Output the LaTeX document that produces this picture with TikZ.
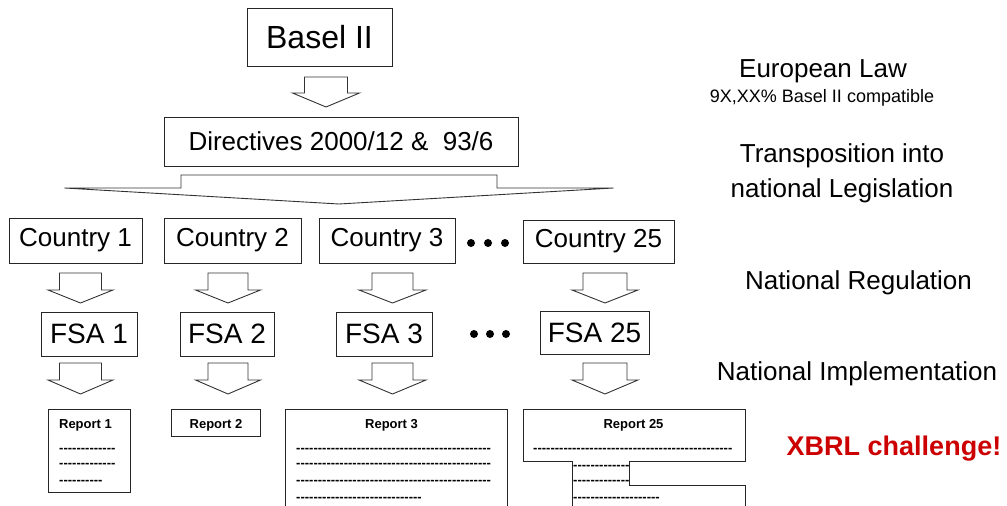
\documentclass[tikz,border=0pt]{standalone}
\usepackage{fontspec}
\setmainfont{Liberation Sans}
\newcommand\hyph[1]{\foreach \i in {1,...,#1}{-\kern0pt}}
\newcommand\blockarrow[6]{% cx, top, shaft half, head half, shaft height, total height
  \draw[arrowline] ({#1-#3},#2) -- ({#1+#3},#2) -- ({#1+#3},{#2+#5}) -- ({#1+#4},{#2+#5})
    -- (#1,{#2+#6}) -- ({#1-#4},{#2+#5}) -- ({#1-#3},{#2+#5}) -- cycle;}
\definecolor{xred}{RGB}{204,0,0}
\begin{document}
\begin{tikzpicture}[x=1pt,y=-1pt,
  box/.style={draw=black!85, line width=0.9pt, inner sep=0pt},
  arrowline/.style={draw=black!80, line width=0.9pt, line join=miter},
  mid/.style={font=\fontsize{26}{30}\selectfont},
  big/.style={font=\fontsize{32}{36}\selectfont},
  fsa/.style={font=\fontsize{28}{32}\selectfont},
  lbl/.style={font=\fontsize{26}{30}\selectfont, anchor=base, inner sep=0pt},
  rtitle/.style={font=\fontsize{13}{15}\selectfont\bfseries, anchor=base, inner sep=0pt},
  dashes/.style={font=\fontsize{13}{15}\selectfont\bfseries, anchor=base west, inner sep=0pt},
  dot/.style={fill=black, circle, inner sep=0pt, minimum size=8pt}]
\useasboundingbox (0,0) rectangle (1007,506);

% top boxes
\node[box, big, minimum width=145pt, minimum height=58pt] (basel) at (319.5,37) {Basel II};
\node[box, mid, minimum width=354pt, minimum height=49pt] (dir) at (341,141.5) {Directives 2000/12 \&\ \ 93/6};

% block arrows top
\blockarrow{326}{77}{21.5}{33.5}{16}{30}
\blockarrow{339}{175}{158}{274.5}{13}{29}

% countries
\node[box, mid, minimum width=133pt, minimum height=45pt] (c1) at (75.5,240.5) {Country 1};
\node[box, mid, minimum width=137pt, minimum height=45pt] (c2) at (232.5,240.5) {Country 2};
\node[box, mid, minimum width=136pt, minimum height=45pt] (c3) at (387,240.5) {Country 3};
\node[box, mid, minimum width=151pt, minimum height=43pt] (c25) at (598.5,241.5) {Country 25};
\node[dot] (cd1) at (471,243) {};
\node[dot] (cd2) at (488,243) {};
\node[dot] (cd3) at (505,243) {};

% arrows country -> FSA
\blockarrow{80.5}{273}{21}{32.5}{17}{30}
\blockarrow{228}{273}{20}{32.5}{17}{30}
\blockarrow{392.5}{273}{20.5}{33.5}{17}{30}
\blockarrow{605}{273}{22}{33}{17}{30}

% FSAs
\node[box, fsa, minimum width=96pt, minimum height=44pt] (f1) at (89,334) {FSA 1};
\node[box, fsa, minimum width=94pt, minimum height=44pt] (f2) at (227,334) {FSA 2};
\node[box, fsa, minimum width=96pt, minimum height=44pt] (f3) at (384,334) {FSA 3};
\node[box, fsa, minimum width=109pt, minimum height=43pt] (f25) at (594.5,332.5) {FSA 25};
\node[dot] (fd1) at (474,334) {};
\node[dot] (fd2) at (490,334) {};
\node[dot] (fd3) at (506,334) {};

% arrows FSA -> reports
\blockarrow{80.5}{363}{21}{32.5}{17}{31}
\blockarrow{228}{363}{20}{32.5}{17}{31}
\blockarrow{392.5}{363}{20.5}{33.5}{17}{31}
\blockarrow{605}{363}{22}{33}{17}{31}

% Report 1
\draw[box] (48,409) rectangle (130,492);
\node[rtitle] (r1) at (85.5,428) {Report 1};
\node[dashes] (r1a) at (59,452) {\hyph{13}};
\node[dashes] (r1b) at (59,467) {\hyph{13}};
\node[dashes] (r1c) at (59,484) {\hyph{10}};

% Report 2
\draw[box] (171,409) rectangle (260,436);
\node[rtitle] (r2) at (216,428) {Report 2};

% Report 3
\draw[box] (285,507) -- (285,409) -- (507,409) -- (507,507);
\node[rtitle] (r3) at (391.5,428) {Report 3};
\node[dashes] (r3a) at (296,452) {\hyph{45}};
\node[dashes] (r3b) at (296,467) {\hyph{45}};
\node[dashes] (r3c) at (296,484) {\hyph{45}};
\node[dashes] (r3d) at (296,501) {\hyph{29}};

% Report 25
\draw[box] (572,507) -- (572,461) -- (523,461) -- (523,409) -- (745,409) -- (745,461)
  -- (629,461) -- (629,485) -- (745,485) -- (745,507);
\node[rtitle] (r25) at (633.5,428) {Report 25};
\node[dashes] (r25a) at (533,452) {\hyph{46}};
\node[dashes] (r25b) at (573,469) {\hyph{13}};
\node[dashes] (r25c) at (573,484) {\hyph{13}};
\node[dashes] (r25d) at (573,501) {\hyph{20}};

% right labels
\node[lbl] (eu) at (823,77) {European Law};
\node[lbl, font=\fontsize{18}{20}\selectfont] (eu2) at (822,102) {9X,XX\% Basel II compatible};
\node[lbl] (tr1) at (842,162) {Transposition into};
\node[lbl] (tr2) at (842,197) {national Legislation};
\node[lbl] (nr) at (858.5,289) {National Regulation};
\node[lbl] (ni) at (857,380) {National Implementation};
\node[lbl, font=\fontsize{27}{30}\selectfont\bfseries, text=xred] (xbrl) at (894,455) {XBRL challenge!};
\end{tikzpicture}
\end{document}
